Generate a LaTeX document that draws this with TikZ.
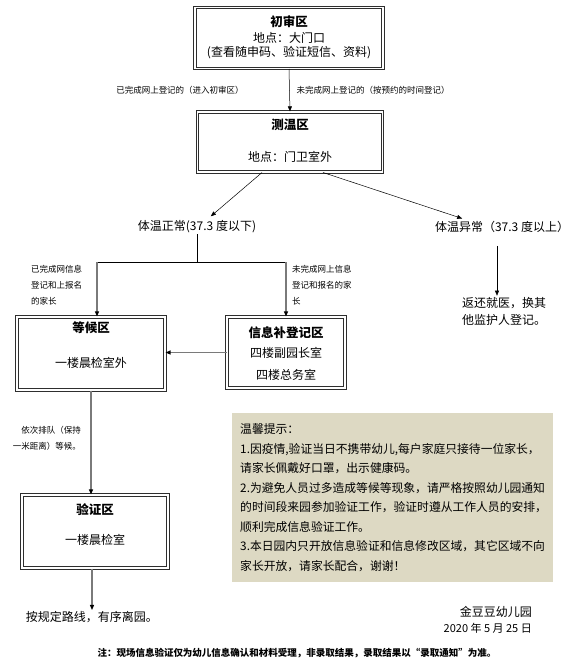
\documentclass[tikz,border=0pt]{standalone}
\usepackage{fontspec}
\setmainfont{Noto Sans CJK SC}
\usetikzlibrary{arrows.meta}
\definecolor{rahmen}{HTML}{2E2E2E}
\definecolor{linie}{HTML}{7A7A7A}
\definecolor{hinweis}{HTML}{DDD9C3}
\tikzset{
  zone/.style={draw=rahmen,line width=1pt,double=white,double distance=1.5pt,inner sep=0pt},
  link/.style={-{Triangle[length=1.8mm,width=1.4mm]},line width=0.5pt},
  glink/.style={-{Triangle[length=1.8mm,width=1.4mm,color=black]},linie,line width=1.3pt},
  head/.style={font=\fontsize{12.5}{15}\bfseries},
  note/.style={font=\fontsize{8.5}{16}\selectfont},
  tip/.style={fill=hinweis,inner sep=8pt,font=\fontsize{11.8}{19.5}\selectfont},
  foot/.style={font=\fontsize{9.5}{12}\bfseries},
}
\begin{document}
\begin{tikzpicture}[x=1pt,y=-1pt,every node/.style={font=\fontsize{12}{15}\selectfont,inner sep=1pt}]
  \useasboundingbox (0,0) rectangle (570,665);
  % zones
  \node[zone,minimum width=188,minimum height=61] (first) at (289,38) {};
  \node[head] (firstT) at (289,22) {初审区};
  \node (firstP) at (289,38) {地点：大门口};
  \node (firstD) at (289,53) {(查看随申码、验证短信、资料)};
  \node[zone,minimum width=185,minimum height=60] (temp) at (290,142) {};
  \node[head] (tempT) at (290,125) {测温区};
  \node (tempP) at (290,157) {地点：门卫室外};
  \node[zone,minimum width=148,minimum height=73] (wait) at (91,353.5) {};
  \node[head] (waitT) at (91,328) {等候区};
  \node (waitP) at (91,363) {一楼晨检室外};
  \node[zone,minimum width=118,minimum height=71] (info) at (286,352.5) {};
  \node[head] (infoT) at (286,333) {信息补登记区};
  \node (infoP) at (286,353) {四楼副园长室};
  \node (infoQ) at (286,375) {四楼总务室};
  \node[zone,minimum width=146,minimum height=73] (verify) at (95,531.5) {};
  \node[head] (verifyT) at (95,510) {验证区};
  \node (verifyP) at (95,540) {一楼晨检室};
  % texts
  \node (normal) at (197,227) {体温正常(37.3 度以下)};
  \node (abnormal) at (502,227) {体温异常（37.3 度以上）};
  \node[align=center,font=\fontsize{12}{17}\selectfont] (back) at (504,311) {返还就医，换其\\他监护人登记。};
  \node (exit) at (92,617) {按规定路线，有序离园。};
  \node[note] (done) at (180,90) {已完成网上登记的（进入初审区）};
  \node[note] (todo) at (373,90) {未完成网上登记的（按预约的时间登记）};
  \node[note,align=left,anchor=north west] (doneinfo) at (30,264) {已完成网信息\\登记和上报名\\的家长};
  \node[note,align=left,anchor=north west] (todoinfo) at (291,264) {未完成网上信息\\登记和报名的家\\长};
  \node[note,align=right,anchor=east] (queue) at (82,438) {依次排队（保持\\一米距离）等候。};
  \node[tip,anchor=north west,minimum width=321,minimum height=169,text width=305,align=left] (tips) at (232,413) {温馨提示：\\1.因疫情,验证当日不携带幼儿,每户家庭只接待一位家长，\\请家长佩戴好口罩，出示健康码。\\2.为避免人员过多造成等候等现象，请严格按照幼儿园通知\\的时间段来园参加验证工作，验证时遵从工作人员的安排，\\顺利完成信息验证工作。\\3.本日园内只开放信息验证和信息修改区域，其它区域不向\\家长开放，请家长配合，谢谢！};
  \node[anchor=east] (school) at (533,612) {金豆豆幼儿园};
  \node[anchor=east,font=\fontsize{11}{13}\selectfont] (date) at (533,628) {2020 年 5 月 25 日};
  \node[foot] (footer) at (297,653) {注：现场信息验证仅为幼儿信息确认和材料受理，非录取结果，录取结果以“录取通知”为准。};
  % connectors
  \coordinate (split) at (196,262);
  \draw[link] (first.south) -- (temp.north);
  \draw[link,shorten >=5pt] ([xshift=-28pt]temp.south) -- ([xshift=10pt]normal.north);
  \draw[link,shorten >=5pt] ([xshift=33pt]temp.south) -- ([xshift=-35pt]abnormal.north);
  \draw (normal.south) -- (normal.south |- split);
  \draw ([xshift=6pt]wait.north |- split) -- (info.north |- split);
  \draw[glink] ([xshift=6pt]wait.north |- split) -- ([xshift=6pt]wait.north);
  \draw[glink] (info.north |- split) -- (info.north);
  \draw[glink] (info.west) -- (wait.east |- info.west);
  \draw[glink] (wait.south) -- (wait.south |- verify.north);
  \draw[glink] (exit.north |- verify.south) -- (exit.north);
  \draw[link,shorten <=12pt] ([xshift=-5pt]abnormal.south) -- ([xshift=-7pt]back.north);
\end{tikzpicture}
\end{document}
